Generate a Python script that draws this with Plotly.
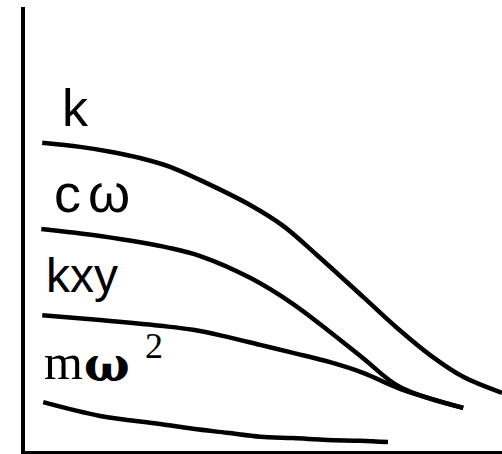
import plotly.graph_objects as go

# Frequency-dependent coefficients (arbitrary units) versus frequency
k_x = [0.40, 1.19, 1.88, 2.44, 3.07, 3.70, 4.74, 5.43, 6.14, 7.10, 7.81, 8.50, 9.19, 10.0]
k_y = [6.94, 6.85, 6.73, 6.60, 6.40, 6.10, 5.54, 5.07, 4.41, 3.47, 2.77, 2.16, 1.67, 1.31]

cw_x = [0.38, 1.61, 3.07, 3.70, 4.74, 5.64, 6.41, 7.10, 7.87, 9.19]
cw_y = [5.00, 4.84, 4.57, 4.39, 3.90, 3.31, 2.68, 2.09, 1.44, 0.97]

kxy_x = [0.40, 1.61, 2.86, 3.55, 4.26, 4.95, 5.64, 6.41, 7.10, 7.87, 9.19]
kxy_y = [3.06, 2.95, 2.82, 2.73, 2.57, 2.39, 2.21, 2.00, 1.76, 1.40, 0.97]

mw2_x = [0.42, 1.61, 2.86, 3.55, 4.26, 4.95, 5.64, 6.35, 7.04, 7.62]
mw2_y = [1.10, 0.79, 0.61, 0.50, 0.41, 0.32, 0.29, 0.25, 0.23, 0.20]

series = [
    (k_x, k_y),
    (cw_x, cw_y),
    (kxy_x, kxy_y),
    (mw2_x, mw2_y),
]

fig = go.Figure()
for xs, ys in series:
    fig.add_trace(go.Scatter(
        x=xs, y=ys, mode="lines",
        line=dict(color="black", width=4.5, shape="spline", smoothing=1.0),
        hoverinfo="skip", showlegend=False,
    ))

sans = "Liberation Sans, Arial, sans-serif"
serif = "Liberation Serif, Times New Roman, serif"
wide_serif = "DejaVu Serif, serif"
# (text, x, y, font family, size, bold)
labels = [
    ("k", 0.77, 7.73, sans, 52, False),
    ("c", 0.61, 5.80, sans, 54, False),
    ("ω", 1.32, 5.80, sans, 54, False),
    ("kxy", 0.44, 3.96, sans, 48, False),
    ("m", 0.40, 2.00, serif, 50, False),
    ("ω", 1.22, 1.95, wide_serif, 48, True),
    ("2", 2.50, 2.36, serif, 36, False),
]
for text, x, y, fam, size, bold in labels:
    fig.add_annotation(
        x=x, y=y, xref="x", yref="y", text=text, showarrow=False,
        xanchor="left", yanchor="middle",
        font=dict(family=fam, size=size, color="black",
                  weight="bold" if bold else "normal"),
    )

fig.update_layout(
    width=502, height=454,
    margin=dict(l=25, r=0, t=7, b=3),
    paper_bgcolor="white", plot_bgcolor="white",
)
fig.update_xaxes(range=[0.04, 10.0], showline=True, linecolor="black", linewidth=3,
                 showgrid=False, zeroline=False, showticklabels=False, ticks="")
fig.update_yaxes(range=[0, 10], showline=True, linecolor="black", linewidth=4,
                 showgrid=False, zeroline=False, showticklabels=False, ticks="")

fig.write_html("out.html")
